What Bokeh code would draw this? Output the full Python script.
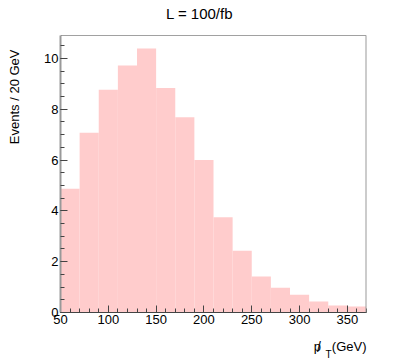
import numpy as np
from bokeh.plotting import figure
from bokeh.models import FixedTicker, Label, Span, Range1d
from bokeh.embed import file_html
from bokeh.resources import INLINE

# Histogram data: missing pT, 20 GeV bins
bin_edges = [50, 70, 90, 110, 130, 150, 170, 190, 210, 230, 250, 270, 290, 310, 330, 350, 370]
events = [4.87, 7.07, 8.77, 9.72, 10.39, 8.83, 7.68, 6.00, 3.75, 2.43, 1.42, 0.97, 0.70, 0.43, 0.28, 0.24]
x_major = [50, 100, 150, 200, 250, 300, 350]
y_major = [0, 2, 4, 6, 8, 10]

FONT = "Liberation Sans"
W, H = 407, 360
XLO, XHI, YLO, YHI = 50, 370, 0, 10.9
FL, FR, FT, FB = 60, 366, 35, 312  # frame in pixels

p = figure(width=W, height=H, output_backend="svg", toolbar_location=None,
           x_range=Range1d(XLO, XHI), y_range=Range1d(YLO, YHI),
           min_border_left=FL, min_border_right=W - FR, min_border_top=FT, min_border_bottom=H - FB)
p.grid.visible = False
p.outline_line_color = None
p.background_fill_color = "white"

p.quad(left=bin_edges[:-1], right=bin_edges[1:], top=events, bottom=0,
       fill_color="#ffcccc", line_color=None)

for ax, majors, lo, hi, step in ((p.xaxis[0], x_major, XLO, XHI, 10), (p.yaxis[0], y_major, YLO, YHI, 0.5)):
    ax.ticker = FixedTicker(ticks=majors, minor_ticks=list(np.arange(lo, hi + 1e-9, step)))
    ax.major_tick_in = 7
    ax.major_tick_out = 0
    ax.minor_tick_in = 4
    ax.minor_tick_out = 0
    ax.major_tick_line_color = "#444444"
    ax.minor_tick_line_color = "#444444"
    ax.major_label_text_font = FONT
    ax.major_label_text_font_size = "13px"
    ax.major_label_text_color = "black"
    ax.major_label_standoff = 2

p.xaxis[0].axis_line_color = "#444444"
p.xaxis[0].axis_line_width = 1
p.yaxis[0].axis_line_color = "#999999"
p.yaxis[0].axis_line_width = 2

# frame top and right
p.add_layout(Span(location=YHI, dimension="width", line_color="#444444", line_width=1))
p.add_layout(Span(location=XHI, dimension="height", line_color="#999999", line_width=2))

# title (above panel)
p.add_layout(Label(x=199 - FL, y=22, x_units="screen", y_units="screen", text="L = 100/fb",
                   text_font=FONT, text_font_size="15px", text_align="center",
                   text_baseline="alphabetic", text_color="black"), "above")
# y label (left panel)
p.add_layout(Label(x=-12, y=263, x_units="screen", y_units="screen", text="Events / 20 GeV",
                   angle=np.pi / 2, text_font=FONT, text_font_size="13px", text_align="right",
                   text_baseline="middle", text_color="black"), "left")
# x label (below panel): p  (GeV), with subscript T and slash through the p
p.add_layout(Label(x=366 - FL, y=-5, x_units="screen", y_units="screen",
                   text="p\u00a0\u00a0\u00a0(GeV)",
                   text_font=FONT, text_font_size="13px", text_align="right",
                   text_baseline="alphabetic", text_color="black"), "below")
p.add_layout(Label(x=325 - FL, y=-2, x_units="screen", y_units="screen", text="T",
                   text_font=FONT, text_font_size="10px", text_align="left",
                   text_baseline="alphabetic", text_color="black"), "below")
p.add_layout(Label(x=316.5 - FR, y=FB - 346, x_units="screen", y_units="screen", text="/",
                   text_font=FONT, text_font_size="14px", text_align="left",
                   text_baseline="alphabetic", text_color="black"), "right")

open("out.html", "w").write(file_html(p, INLINE))
